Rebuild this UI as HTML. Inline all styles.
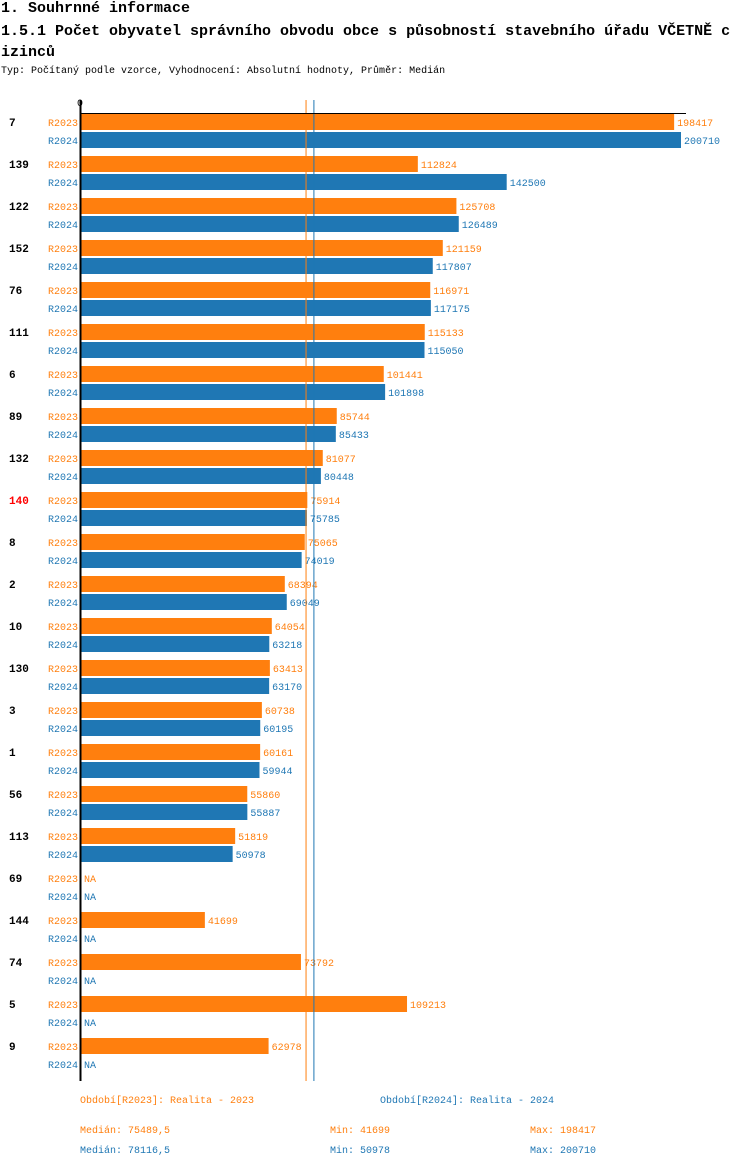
<!DOCTYPE html>
<html><head><meta charset="utf-8">
<style>
body{margin:0;background:#fff;width:750px;height:1170px;overflow:hidden;font-family:"Liberation Mono","DejaVu Sans Mono",monospace;}
.t{position:absolute;white-space:nowrap;}
</style></head><body>
<div class="t" style="left:1px;top:0px;font-size:15px;font-weight:bold;">1. Souhrnné informace</div>
<div class="t" style="left:1px;top:21px;font-size:15px;font-weight:bold;line-height:21px;">1.5.1 Počet obyvatel správního obvodu obce s působností stavebního úřadu VČETNĚ c<br>izinců</div>
<div class="t" style="left:1px;top:66px;font-size:10px;">Typ: Počítaný podle vzorce, Vyhodnocení: Absolutní hodnoty, Průměr: Medián</div>
<svg id="c" width="750" height="1170" style="position:absolute;left:0;top:0"></svg>
<script>
const categories=["7","139","122","152","76","111","6","89","132","140","8","2","10","130","3","1","56","113","69","144","74","5","9"];
const r2023=[198417,112824,125708,121159,116971,115133,101441,85744,81077,75914,75065,68394,64054,63413,60738,60161,55860,51819,null,41699,73792,109213,62978];
const r2024=[200710,142500,126489,117807,117175,115050,101898,85433,80448,75785,74019,69049,63218,63170,60195,59944,55887,50978,null,null,null,null,null];
const medians=[75489.5,78116.5];
const highlight="140";
const O="#ff7f0e",B="#1f77b4";
const x=v=>80+v*601/200710;
const yTop=i=>114+i*42;
const svg=document.getElementById('c');
const NS="http://www.w3.org/2000/svg";
function mk(tag,attrs,txt){const e=document.createElementNS(NS,tag);for(const k in attrs)e.setAttribute(k,attrs[k]);if(txt!=null)e.textContent=txt;svg.appendChild(e);return e;}
const F='font-family:"Liberation Mono","DejaVu Sans Mono",monospace;font-size:10px';
let t=mk('text',{x:80,y:106,'text-anchor':'middle',fill:'#000',style:F},'0');


categories.forEach((c,i)=>{
  const y0=yTop(i);
  let l=mk('text',{x:9,y:y0+12,fill:c===highlight?'#ff0000':'#000',style:F+';font-size:11px;font-weight:bold'},c);
  
  
  [[r2023[i],O,'R2023',0],[r2024[i],B,'R2024',18]].forEach(([v,col,s,off])=>{
    let sl=mk('text',{x:78,y:y0+off+12,'text-anchor':'end',fill:col,style:F},s);
    
    
    if(v==null){
      let na=mk('text',{x:84,y:y0+off+12,fill:col,style:F},'NA');
      
      
      return;
    }
    let r=mk('rect',{x:80,y:y0+off,width:x(v)-80,height:16,fill:col});
    
    
    let vl=mk('text',{x:x(v)+3,y:y0+off+12,fill:col,style:F},String(v));
    
    
  });
});
[O,B].forEach((col,k)=>{
  let m=mk('line',{x1:x(medians[k]),x2:x(medians[k]),y1:100,y2:1081,stroke:col,'stroke-width':1});
  
  
});
let ax=mk('line',{x1:80.5,x2:80.5,y1:100,y2:1081,stroke:'#000','stroke-width':2});


let tx=mk('line',{x1:80,x2:686,y1:113.5,y2:113.5,stroke:'#000','stroke-width':1});


</script>
<div class="t" style="left:80px;top:1096px;font-size:10px;color:#ff7f0e;">Období[R2023]: Realita - 2023</div>
<div class="t" style="left:380px;top:1096px;font-size:10px;color:#1f77b4;">Období[R2024]: Realita - 2024</div>
<div class="t" style="left:80px;top:1126px;font-size:10px;color:#ff7f0e;">Medián: 75489,5</div>
<div class="t" style="left:330px;top:1126px;font-size:10px;color:#ff7f0e;">Min: 41699</div>
<div class="t" style="left:530px;top:1126px;font-size:10px;color:#ff7f0e;">Max: 198417</div>
<div class="t" style="left:80px;top:1146px;font-size:10px;color:#1f77b4;">Medián: 78116,5</div>
<div class="t" style="left:330px;top:1146px;font-size:10px;color:#1f77b4;">Min: 50978</div>
<div class="t" style="left:530px;top:1146px;font-size:10px;color:#1f77b4;">Max: 200710</div>
</body></html>
